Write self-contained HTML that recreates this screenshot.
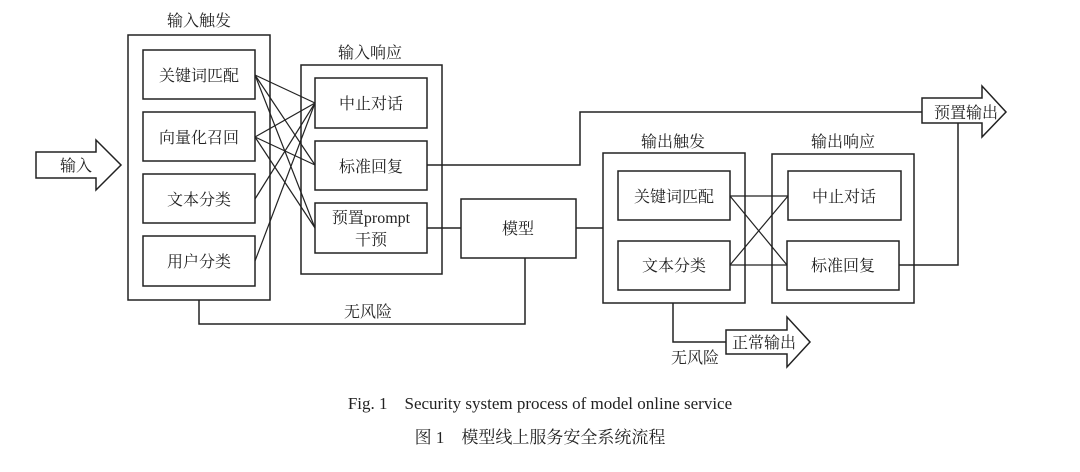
<!DOCTYPE html>
<html><head><meta charset="utf-8"><style>
body{margin:0;background:#fff;width:1080px;height:467px;overflow:hidden}
svg text{font-family:"Liberation Serif","Noto Serif CJK SC",serif;fill:#222;white-space:pre}
</style></head><body>
<svg width="1080" height="467" viewBox="0 0 1080 467" xmlns="http://www.w3.org/2000/svg">
<g fill="none" stroke="#222" stroke-width="1.5">
<rect x="128" y="35" width="142" height="265"/>
<rect x="143" y="50" width="112" height="49"/>
<rect x="143" y="112" width="112" height="49"/>
<rect x="143" y="174" width="112" height="49"/>
<rect x="143" y="236" width="112" height="50"/>
<rect x="301" y="65" width="141" height="209"/>
<rect x="315" y="78" width="112" height="50"/>
<rect x="315" y="141" width="112" height="49"/>
<rect x="315" y="203" width="112" height="50"/>
<rect x="461" y="199" width="115" height="59"/>
<rect x="603" y="153" width="142" height="150"/>
<rect x="618" y="171" width="112" height="49"/>
<rect x="618" y="241" width="112" height="49"/>
<rect x="772" y="154" width="142" height="149"/>
<rect x="788" y="171" width="113" height="49"/>
<rect x="787" y="241" width="112" height="49"/>
<polygon points="36,152 96,152 96,140 121,165 96,190 96,178 36,178"/>
<polygon points="922,98 982,98 982,86 1006,112 982,137 982,123 922,123"/>
<polygon points="726,330 787,330 787,317 810,342 787,367 787,354 726,354"/>
<g stroke-width="1.2">
<line x1="255" y1="75" x2="315" y2="103"/><line x1="255" y1="75" x2="315" y2="165"/><line x1="255" y1="75" x2="315" y2="228"/>
<line x1="255" y1="137" x2="315" y2="103"/><line x1="255" y1="137" x2="315" y2="165"/><line x1="255" y1="137" x2="315" y2="228"/>
<line x1="255" y1="199" x2="315" y2="103"/><line x1="255" y1="261" x2="315" y2="103"/>
<line x1="730" y1="196" x2="788" y2="196"/><line x1="730" y1="196" x2="787" y2="265"/>
<line x1="730" y1="265" x2="788" y2="196"/><line x1="730" y1="265" x2="787" y2="265"/>
</g>
<polyline points="427,165 580,165 580,112 922,112"/>
<line x1="427" y1="228" x2="461" y2="228"/>
<line x1="576" y1="228" x2="603" y2="228"/>
<polyline points="199,300 199,324 525,324 525,258"/>
<polyline points="899,265 958,265 958,123"/>
<polyline points="673,303 673,342 726,342"/>
</g>
<g font-size="16" text-anchor="middle">
<text x="199" y="26">输入触发</text>
<text x="370" y="58">输入响应</text>
<text x="199" y="81">关键词匹配</text>
<text x="199" y="143">向量化召回</text>
<text x="199" y="205">文本分类</text>
<text x="199" y="267">用户分类</text>
<text x="371" y="109">中止对话</text>
<text x="371" y="172">标准回复</text>
<text x="371" y="223">预置prompt</text>
<text x="371" y="245">干预</text>
<text x="518" y="234">模型</text>
<text x="76" y="171">输入</text>
<text x="368" y="317">无风险</text>
<text x="673" y="147">输出触发</text>
<text x="843" y="147">输出响应</text>
<text x="674" y="202">关键词匹配</text>
<text x="674" y="271">文本分类</text>
<text x="844" y="202">中止对话</text>
<text x="843" y="271">标准回复</text>
<text x="966" y="118">预置输出</text>
<text x="764" y="348">正常输出</text>
<text x="695" y="363">无风险</text>
<text x="540" y="409" font-size="17">Fig. 1&#160;&#160;&#160;&#160;Security system process of model online service</text>
<text x="540" y="443" font-size="17">图 1&#160;&#160;&#160;&#160;模型线上服务安全系统流程</text>
</g>
</svg>
</body></html>
